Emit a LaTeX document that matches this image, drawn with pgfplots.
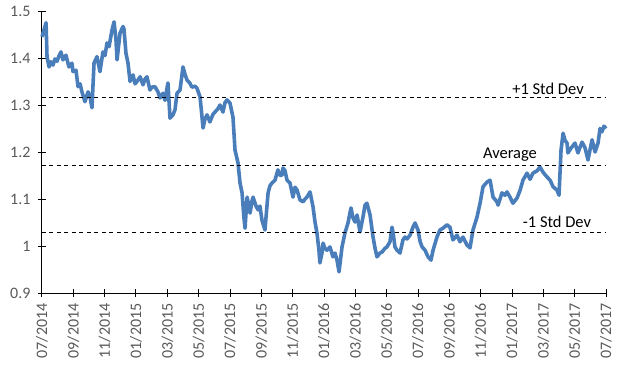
\documentclass[border=0pt]{standalone}
\usepackage{pgfplots}
\pgfplotsset{compat=1.18}
\usepackage{fontspec}
\setmainfont{Carlito}
\definecolor{serblue}{HTML}{4A7EBB}
\definecolor{ticklab}{HTML}{595959}
\begin{document}
\fontsize{16}{18}\selectfont
\begin{tikzpicture}
\begin{axis}[
  scale only axis, width=564pt, height=282pt,
  xmin=0, xmax=36, ymin=0.9, ymax=1.5,
  axis x line*=bottom, axis y line*=left,
  axis line style={black, line width=1pt},
  xtick={0,2,...,36},
  xticklabels={07/2014,09/2014,11/2014,01/2015,03/2015,05/2015,07/2015,09/2015,11/2015,01/2016,03/2016,05/2016,07/2016,09/2016,11/2016,01/2017,03/2017,05/2017,07/2017},
  x tick label style={rotate=90, anchor=east, font=\fontsize{16}{18}\selectfont, text=ticklab},
  ytick={0.9,1,1.1,1.2,1.3,1.4,1.5},
  yticklabels={0.9,1,1.1,1.2,1.3,1.4,1.5},
  y tick label style={font=\fontsize{16}{18}\selectfont, text=ticklab},
  tick align=center, major tick length=8pt,
  tick style={black, line width=1pt},
  xticklabel shift=1pt, yticklabel shift=2pt,
  clip=false,
]
\addplot[no marks, color=serblue, line width=3.6pt, line join=round] coordinates {
(0,1.445)(0.13,1.46)(0.26,1.475)(0.32,1.403)(0.45,1.381)(0.57,1.392)(0.70,1.385)(0.83,1.398)(0.96,1.393)(1.09,1.405)
(1.21,1.413)(1.34,1.396)(1.53,1.406)(1.72,1.381)(1.91,1.389)(1.98,1.371)(2.17,1.374)(2.30,1.339)(2.43,1.345)(2.55,1.328)
(2.74,1.307)(2.94,1.328)(3.06,1.318)(3.19,1.294)(3.32,1.389)(3.51,1.403)(3.70,1.371)(3.89,1.413)(4.02,1.405)(4.15,1.432)
(4.28,1.424)(4.47,1.460)(4.60,1.477)(4.72,1.440)(4.79,1.396)(4.98,1.453)(5.17,1.467)(5.23,1.462)(5.36,1.41)(5.49,1.389)
(5.62,1.35)(5.81,1.364)(5.94,1.345)(6.06,1.35)(6.26,1.360)(6.45,1.343)(6.57,1.355)(6.70,1.36)(6.89,1.332)(7.02,1.338)
(7.21,1.339)(7.40,1.328)(7.53,1.315)(7.72,1.325)(7.85,1.310)(7.98,1.336)(8.04,1.347)(8.17,1.272)(8.36,1.279)(8.49,1.290)
(8.62,1.325)(8.81,1.332)(9.00,1.381)(9.13,1.365)(9.26,1.353)(9.45,1.346)(9.57,1.338)(9.77,1.340)(9.89,1.336)(10.09,1.317)
(10.28,1.251)(10.40,1.270)(10.53,1.279)(10.72,1.264)(10.91,1.280)(11.04,1.285)(11.23,1.292)(11.36,1.300)(11.55,1.285)(11.68,1.305)
(11.81,1.311)(12.00,1.304)(12.19,1.274)(12.32,1.204)(12.51,1.177)(12.64,1.134)(12.77,1.113)(12.89,1.06)(12.96,1.038)(13.09,1.104)
(13.21,1.085)(13.28,1.070)(13.40,1.095)(13.47,1.104)(13.66,1.085)(13.79,1.077)(13.91,1.085)(14.04,1.055)(14.23,1.034)(14.43,1.113)
(14.55,1.128)(14.68,1.134)(14.87,1.140)(15.06,1.162)(15.19,1.150)(15.32,1.151)(15.38,1.166)(15.51,1.160)(15.64,1.140)(15.83,1.134)
(16.02,1.104)(16.15,1.125)(16.28,1.119)(16.47,1.098)(16.66,1.094)(16.79,1.100)(16.91,1.104)(17.11,1.115)(17.30,1.083)(17.43,1.05)
(17.55,1.028)(17.68,0.990)(17.74,0.964)(17.87,0.985)(17.94,1.006)(18.06,0.995)(18.19,0.991)(18.38,0.998)(18.57,0.977)(18.70,0.985)
(18.83,0.970)(18.96,0.945)(19.15,0.998)(19.34,1.028)(19.53,1.049)(19.72,1.081)(19.85,1.060)(19.98,1.051)(20.11,1.066)(20.30,1.030)
(20.49,1.062)(20.62,1.087)(20.74,1.091)(20.94,1.066)(21.13,1.019)(21.26,0.995)(21.38,0.977)(21.57,0.985)(21.70,0.987)(21.89,0.995)
(22.02,0.998)(22.21,1.009)(22.34,1.040)(22.40,1.030)(22.53,0.998)(22.66,0.991)(22.85,0.985)(23.04,1.013)(23.17,1.019)(23.30,1.015)
(23.49,1.023)(23.68,1.040)(23.81,1.049)(24.00,1.034)(24.13,1.010)(24.26,0.998)(24.45,0.991)(24.64,0.977)(24.83,0.970)(24.96,0.991)
(25.21,1.019)(25.40,1.034)(25.60,1.038)(25.85,1.045)(26.04,1.040)(26.23,1.013)(26.49,1.023)(26.68,1.009)(26.87,1.019)(27.13,1.002)
(27.32,0.996)(27.51,1.034)(27.77,1.062)(27.96,1.091)(28.15,1.126)(28.40,1.136)(28.60,1.140)(28.79,1.104)(29.04,1.094)(29.11,1.087)
(29.36,1.113)(29.55,1.108)(29.68,1.115)(29.87,1.104)(30.06,1.091)(30.32,1.102)(30.51,1.118)(30.70,1.140)(30.96,1.155)(31.15,1.142)
(31.34,1.155)(31.60,1.160)(31.79,1.168)(31.98,1.157)(32.23,1.147)(32.43,1.140)(32.62,1.126)(32.87,1.119)(33.00,1.108)(33.13,1.204)
(33.26,1.240)(33.38,1.225)(33.51,1.219)(33.57,1.198)(33.70,1.205)(33.83,1.211)(34.02,1.219)(34.21,1.198)(34.34,1.210)(34.47,1.221)
(34.66,1.209)(34.85,1.183)(34.98,1.205)(35.11,1.226)(35.30,1.200)(35.49,1.219)(35.62,1.250)(35.74,1.243)(35.87,1.255)(36.00,1.250)
};
\addplot[no marks, black, line width=1.2pt, dash pattern=on 4pt off 3.5pt] coordinates {(0,1.316)(36,1.316)};
\addplot[no marks, black, line width=1.2pt, dash pattern=on 4pt off 3.5pt] coordinates {(0,1.172)(36,1.172)};
\addplot[no marks, black, line width=1.2pt, dash pattern=on 4pt off 3.5pt] coordinates {(0,1.028)(36,1.028)};
\node[font=\fontsize{16.5}{18}\selectfont] at (axis cs:32.3,1.334) {+1 Std Dev};
\node[font=\fontsize{16.5}{18}\selectfont] at (axis cs:29.87,1.194) {Average};
\node[font=\fontsize{16.5}{18}\selectfont] at (axis cs:32.87,1.051) {-1 Std Dev};
\coordinate (bl) at (rel axis cs:-0.07447,-0.26596);
\coordinate (tr) at (rel axis cs:1.03191,1.03901);
\end{axis}
\pgfresetboundingbox
\path (bl) rectangle (tr);
\end{tikzpicture}
\end{document}
